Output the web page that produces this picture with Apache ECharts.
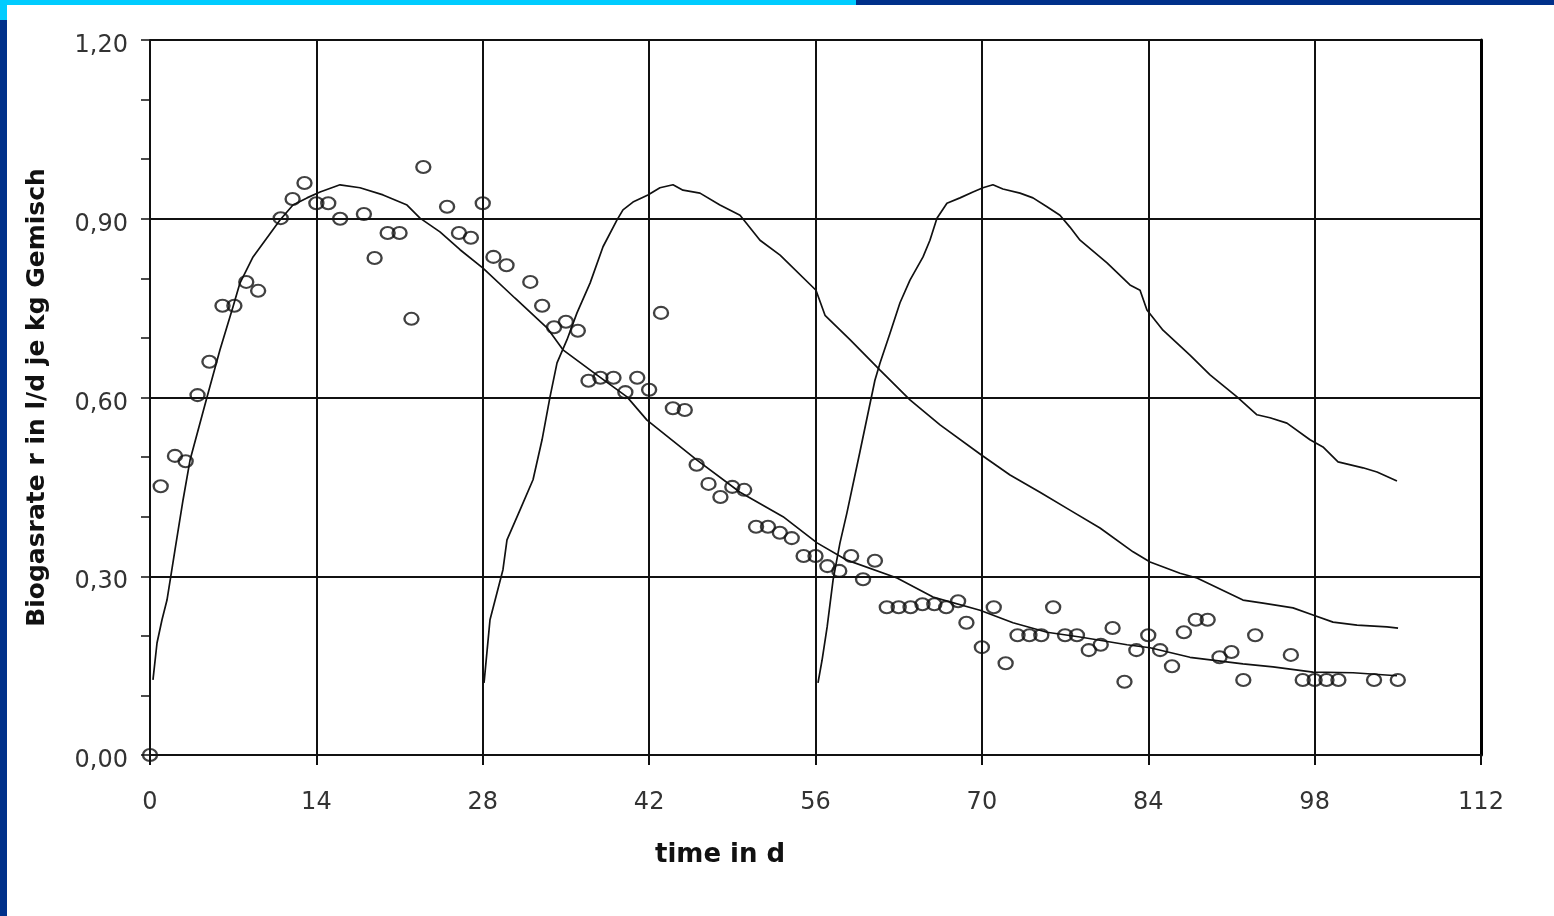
<!DOCTYPE html>
<html>
<head>
<meta charset="utf-8">
<script src="https://cdn.jsdelivr.net/npm/echarts@6/dist/echarts.min.js"></script>
<style>
  html, body { margin: 0; padding: 0; background: #fff; }
  #chart { width: 1554px; height: 916px; }
</style>
</head>
<body>
<div id="chart"></div>
<script>
// measured points (days, rate)
const obsDays = [0, 0.9, 2.1, 3.0, 4.0, 5.0, 6.1, 7.1, 8.1, 9.1, 11.0, 12.0, 13.0, 14.0, 15.0, 16.0,
  18.0, 18.9, 20.0, 21.0, 22.0, 23.0, 25.0, 26.0, 27.0, 28.0, 28.9, 30.0, 32.0, 33.0, 34.0, 35.0,
  36.0, 36.9, 37.9, 39.0, 40.0, 41.0, 42.0, 43.0, 44.0, 45.0, 46.0, 47.0, 48.0, 49.0, 50.0, 51.0,
  52.0, 53.0, 54.0, 55.0, 56.0, 57.0, 58.0, 59.0, 60.0, 61.0, 62.0, 63.0, 64.0, 65.0, 66.0, 67.0,
  68.0, 68.7, 70.0, 71.0, 72.0, 73.0, 74.0, 75.0, 76.0, 77.0, 78.0, 79.0, 80.0, 81.0, 82.0, 83.0,
  84.0, 85.0, 86.0, 87.0, 88.0, 89.0, 90.0, 91.0, 92.0, 93.0, 96.0, 97.0, 98.0, 99.0, 100.0, 103.0, 105.0];
const obsRate = [0.00, 0.451, 0.502, 0.493, 0.604, 0.660, 0.754, 0.754, 0.794, 0.779, 0.901, 0.933, 0.960, 0.926, 0.926, 0.900,
  0.908, 0.834, 0.876, 0.876, 0.732, 0.987, 0.920, 0.876, 0.868, 0.926, 0.836, 0.822, 0.794, 0.754, 0.718, 0.727,
  0.712, 0.628, 0.633, 0.633, 0.609, 0.633, 0.613, 0.742, 0.582, 0.579, 0.487, 0.455, 0.433, 0.450, 0.445, 0.383,
  0.383, 0.373, 0.364, 0.334, 0.334, 0.317, 0.309, 0.334, 0.295, 0.326, 0.248, 0.248, 0.248, 0.253, 0.253, 0.248,
  0.258, 0.222, 0.181, 0.248, 0.154, 0.201, 0.201, 0.201, 0.248, 0.201, 0.201, 0.176, 0.185, 0.213, 0.123, 0.176,
  0.201, 0.176, 0.149, 0.206, 0.227, 0.227, 0.164, 0.173, 0.126, 0.201, 0.168, 0.126, 0.126, 0.126, 0.126, 0.126, 0.126];

// model curve, first batch
const fit1Days = [0.25, 0.59, 1.01, 1.43, 2.10, 2.78, 3.37, 4.80, 5.89, 6.98, 7.57, 8.67, 10.94, 12.03, 13.21, 14.31,
  15.99, 17.67, 19.61, 21.63, 22.72, 24.40, 26.09, 28.02, 30.7, 33.41, 34.75, 37.45, 40.14, 41.82, 46.03, 49.65,
  53.27, 56.13, 58.65, 62.86, 65.89, 69.84, 72.62, 75.48, 78.26, 82.21, 84.15, 87.51, 91.97, 94.50, 97.86, 101.23, 104.93];
const fit1Rate = [0.126, 0.188, 0.227, 0.260, 0.344, 0.428, 0.495, 0.601, 0.680, 0.752, 0.792, 0.836, 0.898, 0.923, 0.935, 0.945,
  0.957, 0.952, 0.940, 0.923, 0.901, 0.878, 0.848, 0.817, 0.767, 0.717, 0.680, 0.640, 0.601, 0.562, 0.495, 0.441,
  0.400, 0.356, 0.327, 0.297, 0.265, 0.243, 0.222, 0.206, 0.198, 0.185, 0.180, 0.164, 0.153, 0.148, 0.139, 0.138, 0.133];

// model curve, second feeding
const fit2Days = [28.11, 28.61, 29.70, 30.04, 31.13, 32.23, 32.99, 33.66, 34.25, 35.09, 35.93, 37.03, 38.12, 39.30, 39.80,
  40.64, 41.90, 42.91, 44.01, 44.85, 46.28, 47.96, 49.65, 51.33, 53.02, 56.04, 56.80, 58.90, 61.43, 63.95, 66.48,
  69.93, 72.37, 74.89, 77.41, 79.94, 82.72, 84.15, 86.67, 88.10, 91.97, 93.66, 96.18, 97.86, 99.55, 101.57, 104.09, 105.02];
const fit2Rate = [0.121, 0.227, 0.311, 0.361, 0.411, 0.462, 0.529, 0.601, 0.658, 0.697, 0.742, 0.792, 0.853, 0.898, 0.915,
  0.928, 0.940, 0.952, 0.957, 0.948, 0.943, 0.923, 0.906, 0.864, 0.839, 0.780, 0.738, 0.697, 0.646, 0.596, 0.554,
  0.504, 0.470, 0.441, 0.411, 0.381, 0.341, 0.324, 0.305, 0.297, 0.260, 0.255, 0.247, 0.235, 0.223, 0.218, 0.215, 0.213];

// model curve, third feeding
const fit3Days = [56.21, 56.55, 56.98, 57.48, 58.06, 58.64, 59.74, 61.0, 61.43, 62.27, 63.11, 63.95, 65.05, 65.63, 66.22,
  67.06, 68.16, 69.25, 70.09, 70.93, 71.77, 73.21, 74.30, 75.48, 76.57, 77.41, 78.26, 80.53, 82.46, 83.31, 83.89,
  85.24, 87.51, 89.20, 91.47, 93.15, 94.24, 95.67, 97.61, 98.70, 99.97, 102.07, 103.25, 104.93];
const fit3Rate = [0.121, 0.159, 0.215, 0.294, 0.356, 0.406, 0.509, 0.629, 0.658, 0.708, 0.759, 0.797, 0.836, 0.864, 0.901,
  0.926, 0.935, 0.945, 0.952, 0.957, 0.950, 0.943, 0.935, 0.920, 0.906, 0.886, 0.864, 0.826, 0.789, 0.780, 0.747,
  0.713, 0.671, 0.638, 0.601, 0.571, 0.566, 0.557, 0.529, 0.517, 0.492, 0.482, 0.475, 0.460];

const zip = (xs, ys) => xs.map((x, i) => [x, ys[i]]);

const chart = echarts.init(document.getElementById('chart'), null, { renderer: 'canvas' });

const lineSeries = (data) => ({
  type: 'line',
  data,
  showSymbol: false,
  smooth: false,
  lineStyle: { color: '#111', width: 1.7 },
  z: 3,
});

const option = {
  backgroundColor: '#ffffff',
  animation: false,
  grid: { left: 150, right: 73, top: 40, bottom: 161 },
  graphic: [
    { type: 'rect', left: 0, top: 0, shape: { width: 856, height: 5 }, style: { fill: '#00ccff' } },
    { type: 'rect', left: 856, top: 0, shape: { width: 698, height: 5 }, style: { fill: '#00308a' } },
    { type: 'rect', left: 0, top: 0, shape: { width: 7, height: 20 }, style: { fill: '#00ccff' } },
    { type: 'rect', left: 0, top: 20, shape: { width: 7, height: 896 }, style: { fill: '#00308a' } },
    {
      type: 'text', left: 655, top: 842,
      style: { text: 'time in d', fill: '#111', font: 'bold 26px "DejaVu Sans"' }
    },
  ],
  xAxis: {
    type: 'value',
    min: 0,
    max: 112,
    interval: 14,
    axisLine: { lineStyle: { color: '#111', width: 2 } },
    axisTick: { show: true, length: 10, lineStyle: { color: '#111', width: 2 } },
    axisLabel: { color: '#333', fontSize: 24, fontFamily: 'DejaVu Sans', margin: 36 },
    splitLine: { show: true, lineStyle: { color: '#111', width: 2 } },
  },
  yAxis: [
    {
      type: 'value',
      min: 0,
      max: 1.2,
      interval: 0.3,
      name: 'Biogasrate r in l/d je kg Gemisch',
      nameLocation: 'middle',
      nameGap: 100,
      nameTextStyle: { color: '#111', fontSize: 25, fontWeight: 'bold', fontFamily: 'DejaVu Sans' },
      axisLine: { show: true, lineStyle: { color: '#111', width: 2 } },
      axisTick: { show: true, length: 9, lineStyle: { color: '#111', width: 1.5 } },
      minorTick: { show: true, splitNumber: 3, length: 9, lineStyle: { color: '#111', width: 1.5 } },
      axisLabel: {
        color: '#333', fontSize: 24, fontFamily: 'DejaVu Sans', margin: 22,
        verticalAlign: 'top', lineHeight: 12,
        formatter: (v) => v.toFixed(2).replace('.', ',')
      },
      splitLine: { show: true, lineStyle: { color: '#111', width: 2 } },
    },
    {
      type: 'value',
      min: 0,
      max: 1.2,
      interval: 0.3,
      position: 'right',
      axisLine: { show: true, lineStyle: { color: '#000', width: 3 } },
      axisTick: { show: false },
      axisLabel: { show: false },
      splitLine: { show: false },
    },
  ],
  series: [
    lineSeries(zip(fit1Days, fit1Rate)),
    lineSeries(zip(fit2Days, fit2Rate)),
    lineSeries(zip(fit3Days, fit3Rate)),
    {
      type: 'scatter',
      data: zip(obsDays, obsRate),
      symbol: 'circle',
      symbolSize: [14, 12],
      itemStyle: { color: 'rgba(255,255,255,0)', borderColor: '#111', borderWidth: 2.2 },
      z: 4,
    },
  ],
};

chart.setOption(option);
</script>
</body>
</html>
